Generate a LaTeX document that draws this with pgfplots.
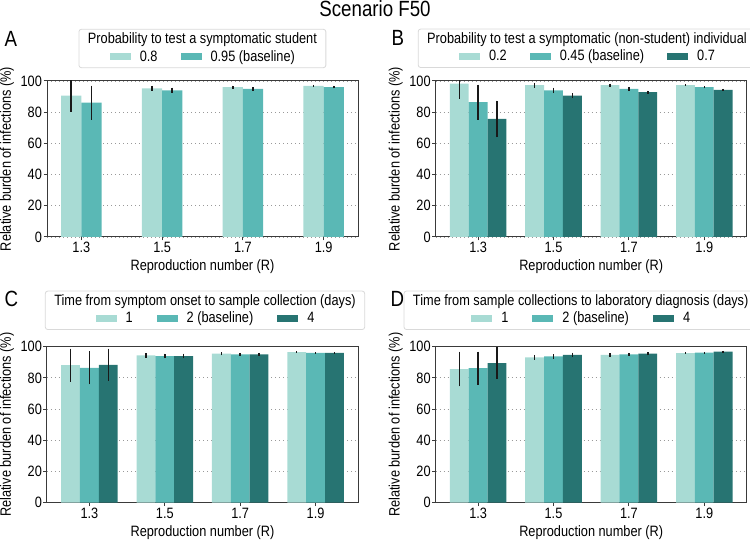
\documentclass[border=0pt]{standalone}
\usepackage{pgfplots}
\pgfplotsset{compat=1.18}
\usepackage{pgfplotstable}
\usepackage{fontspec}
\setmainfont{Liberation Sans}[FakeStretch=0.85]

\definecolor{cA}{HTML}{A8DBD4}
\definecolor{cB}{HTML}{5AB8B5}
\definecolor{cC}{HTML}{277472}
\definecolor{frame}{HTML}{3A3A3A}

% x = group index, y = relative burden (%), e = half error bar
\pgfplotstableread{
x y e
0 90.6 10.2
1 95.3 1.5
2 96.0 1.0
3 96.8 0.7
}\Aa
\pgfplotstableread{
x y e
0 86.1 11.0
1 94.0 1.8
2 94.9 1.0
3 96.0 0.8
}\Ab
\pgfplotstableread{
x y e
0 98.3 9.6
1 97.3 1.5
2 97.3 1.0
3 97.4 0.6
}\Ba
\pgfplotstableread{
x y e
0 86.4 11.2
1 94.0 1.7
2 94.9 1.2
3 96.0 0.7
}\Bb
\pgfplotstableread{
x y e
0 75.7 11.7
1 90.6 1.6
2 92.8 1.0
3 94.3 0.6
}\Bc
\pgfplotstableread{
x y e
0 88.2 10.6
1 94.4 1.5
2 95.5 1.0
3 96.6 0.5
}\Ca
\pgfplotstableread{
x y e
0 86.5 10.7
1 94.0 1.5
2 95.1 1.0
3 96.1 0.5
}\Cb
\pgfplotstableread{
x y e
0 88.4 10.3
1 94.0 1.5
2 95.1 1.0
3 96.1 0.5
}\Cc
\pgfplotstableread{
x y e
0 85.7 11.1
1 93.2 1.5
2 94.7 1.0
3 95.9 0.5
}\Da
\pgfplotstableread{
x y e
0 86.3 10.6
1 93.8 1.5
2 95.1 1.0
3 96.2 0.5
}\Db
\pgfplotstableread{
x y e
0 89.5 10.2
1 94.7 1.5
2 95.5 1.0
3 96.8 0.5
}\Dc

\newcommand\sw[1]{\textcolor{#1}{\rule[1pt]{21pt}{7pt}}}

\pgfplotsset{
  panel/.style={
    scale only axis, width=311pt, height=156pt,
    ymin=0, ymax=100, ytick={0,20,...,100},
    xtick={0,1,2,3}, xticklabels={1.3,1.5,1.7,1.9},
    xmin=-0.5625, xmax=3.5625,
    axis line style={draw=frame, line width=1pt},
    tick align=outside, xtick pos=left, ytick pos=left,
    major tick length=3.5pt,
    tick style={draw=frame, line width=1pt},
    ymajorgrids, grid style={black!40, line width=0.8pt, dash pattern=on 1pt off 3pt},
    /pgf/number format/assume math mode=true,
    every tick label/.append style={font=\fontsize{15}{18}\selectfont, inner sep=1.4pt},
    label style={font=\fontsize{15}{18}\selectfont},
    xlabel={Reproduction number (R)},
    ylabel={Relative burden of infections (\%)},
    xlabel style={at={(axis description cs:0.5,0)}, anchor=base, yshift=-34pt},
    ylabel style={at={(axis description cs:-0.1286,0.5)}, anchor=center},
  },
  % each series is moved off the group centre by its own offset, so that
  % the error bar sits on the middle of its bar
  bars/.style={
    ybar, bar width=0.25, bar shift=0pt, draw=none,
    error bars/y dir=both, error bars/y explicit,
    error bars/error mark=none,
    error bars/error bar style={line width=1.5pt, color=black!90},
  },
}

\tikzset{legendbox/.style={draw=black!15, rounded corners=2.5pt, fill=white,
  align=center, inner xsep=9pt, inner ysep=3.5pt, line width=0.8pt,
  font=\fontsize{15}{17.5}\selectfont}}

\begin{document}
\begin{tikzpicture}
\path[use as bounding box] (0pt,0pt) rectangle (750pt,541pt);
\node[anchor=base, font=\fontsize{22}{26}\selectfont] at (375pt,524pt) {Scenario F50};
\node[anchor=base west, font=\fontsize{22}{26}\selectfont] at (1pt,494pt) {A};
\node[anchor=base west, font=\fontsize{22}{26}\selectfont] at (388pt,495pt) {B};
\node[anchor=base west, font=\fontsize{22}{26}\selectfont] at (1pt,234pt) {C};
\node[anchor=base west, font=\fontsize{22}{26}\selectfont] at (387pt,234pt) {D};

% A
\begin{axis}[panel, at={(47pt,304pt)}, anchor=south west, xmin=-0.425, xmax=3.425]
  \addplot[bars, fill=cA] table[x expr=\thisrow{x}-0.125, y=y, y error=e] {\Aa};
  \addplot[bars, fill=cB] table[x expr=\thisrow{x}+0.125, y=y, y error=e] {\Ab};
\end{axis}
\node[legendbox] at (202.4pt,492.5pt) {Probability to test a symptomatic student\\
  \sw{cA}\hspace{9pt}0.8\hspace{23pt}\sw{cB}\hspace{9pt}0.95 (baseline)};

% B
\begin{axis}[panel, at={(435.7pt,304pt)}, anchor=south west]
  \addplot[bars, fill=cA] table[x expr=\thisrow{x}-0.25, y=y, y error=e] {\Ba};
  \addplot[bars, fill=cB] table[x=x, y=y, y error=e] {\Bb};
  \addplot[bars, fill=cC] table[x expr=\thisrow{x}+0.25, y=y, y error=e] {\Bc};
\end{axis}
\node[legendbox] at (587pt,492.7pt) {Probability to test a symptomatic (non-student) individual\\
  \sw{cA}\hspace{9pt}0.2\hspace{23pt}\sw{cB}\hspace{9pt}0.45 (baseline)\hspace{23pt}\sw{cC}\hspace{9pt}0.7};

% C
\begin{axis}[panel, at={(47pt,38.3pt)}, anchor=south west]
  \addplot[bars, fill=cA] table[x expr=\thisrow{x}-0.25, y=y, y error=e] {\Ca};
  \addplot[bars, fill=cB] table[x=x, y=y, y error=e] {\Cb};
  \addplot[bars, fill=cC] table[x expr=\thisrow{x}+0.25, y=y, y error=e] {\Cc};
\end{axis}
\node[legendbox] at (205pt,230.7pt) {Time from symptom onset to sample collection (days)\\
  \sw{cA}\hspace{9pt}1\hspace{24pt}\sw{cB}\hspace{9pt}2 (baseline)\hspace{24pt}\sw{cC}\hspace{9pt}4};

% D
\begin{axis}[panel, at={(435.7pt,38.3pt)}, anchor=south west]
  \addplot[bars, fill=cA] table[x expr=\thisrow{x}-0.25, y=y, y error=e] {\Da};
  \addplot[bars, fill=cB] table[x=x, y=y, y error=e] {\Db};
  \addplot[bars, fill=cC] table[x expr=\thisrow{x}+0.25, y=y, y error=e] {\Dc};
\end{axis}
\node[legendbox] at (580.7pt,230.7pt) {Time from sample collections to laboratory diagnosis (days)\\
  \sw{cA}\hspace{9pt}1\hspace{24pt}\sw{cB}\hspace{9pt}2 (baseline)\hspace{24pt}\sw{cC}\hspace{9pt}4};
\end{tikzpicture}
\end{document}
